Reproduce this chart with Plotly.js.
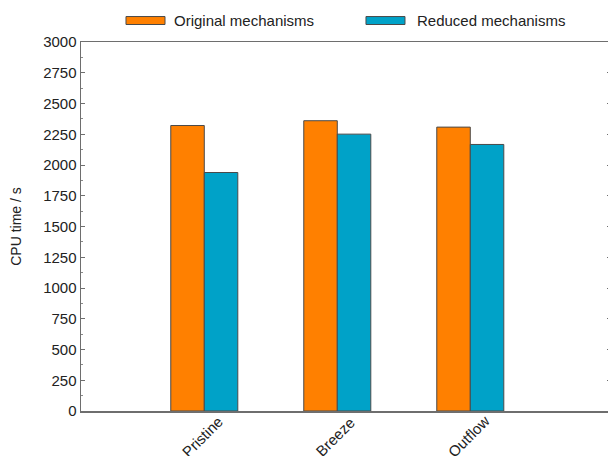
<!DOCTYPE html>
<html>
<head>
<meta charset="utf-8">
<script src="https://cdn.plot.ly/plotly-3.0.1.min.js"></script>
<style>
html,body{margin:0;padding:0;overflow:hidden;background:#fff;}
#chart{width:611px;height:456px;}
</style>
</head>
<body>
<div id="chart"></div>
<script>
const categories = ["Pristine", "Breeze", "Outflow"];
const originalValues = [2321, 2360, 2308];
const reducedValues = [1939, 2251, 2167];
const seriesNames = ["Original mechanisms", "Reduced mechanisms"];
const yTickValues = [0, 250, 500, 750, 1000, 1250, 1500, 1750, 2000, 2250, 2500, 2750, 3000];

const colors = ["#FF8000", "#00A2C8"];
const font = "'Liberation Sans', Arial, Helvetica, sans-serif";

const traces = [
  {type: "bar", name: seriesNames[0], x: categories, y: originalValues,
   marker: {color: colors[0], line: {color: "#4a4a4a", width: 1}}, showlegend: false},
  {type: "bar", name: seriesNames[1], x: categories, y: reducedValues,
   marker: {color: colors[1], line: {color: "#4a4a4a", width: 1}}, showlegend: false}
];

// rotated category labels placed through the x axis scale
const categoryLabels = categories.map(c => ({
  xref: "x", yref: "paper", x: c, y: -0.068,
  xanchor: "center", yanchor: "middle", textangle: -45,
  text: c, showarrow: false, xshift: -2,
  font: {family: font, size: 15, color: "#222"}
}));

const layout = {
  width: 611, height: 456,
  margin: {l: 81, r: 0, t: 42, b: 45},
  paper_bgcolor: "#fff", plot_bgcolor: "#fff",
  font: {family: font, size: 15, color: "#222"},
  barmode: "group", bargap: 0.496, bargroupgap: 0,
  xaxis: {
    type: "category",
    range: [-0.927, 3.058],
    showticklabels: false,
    ticks: "", showgrid: false, zeroline: false,
    showline: true, linecolor: "#6e6e6e", linewidth: 1.5, mirror: true
  },
  yaxis: {
    range: [0, 3000],
    tickvals: yTickValues,
    ticktext: yTickValues.map(String),
    ticks: "inside", ticklen: 4, tickcolor: "#6e6e6e", tickwidth: 1,
    minor: {dtick: 125, ticks: "inside", ticklen: 2, tickcolor: "#8a8a8a"},
    showgrid: false, zeroline: false,
    showline: true, linecolor: "#6e6e6e", linewidth: 1.5, mirror: "allticks",
    tickfont: {family: font, size: 15, color: "#222"},
    title: {text: "CPU time / s", font: {family: font, size: 14, color: "#222"}, standoff: 18}
  },
  shapes: [
    {type: "rect", xref: "paper", yref: "paper", x0: 0.0849, x1: 0.1585, y0: 1.0474, y1: 1.069,
     fillcolor: colors[0], line: {color: "#4a4a4a", width: 1}},
    {type: "rect", xref: "paper", yref: "paper", x0: 0.5377, x1: 0.6113, y0: 1.0474, y1: 1.069,
     fillcolor: colors[1], line: {color: "#4a4a4a", width: 1}}
  ],
  annotations: [
    {xref: "paper", yref: "paper", x: 0.1717, y: 1.0583, xanchor: "left", yanchor: "middle",
     text: seriesNames[0], showarrow: false, font: {family: font, size: 15, color: "#222"}},
    {xref: "paper", yref: "paper", x: 0.630, y: 1.0583, xanchor: "left", yanchor: "middle",
     text: seriesNames[1], showarrow: false, font: {family: font, size: 15, color: "#222"}}
  ].concat(categoryLabels)
};

Plotly.newPlot("chart", traces, layout, {displayModeBar: false, staticPlot: true});
</script>
</body>
</html>
